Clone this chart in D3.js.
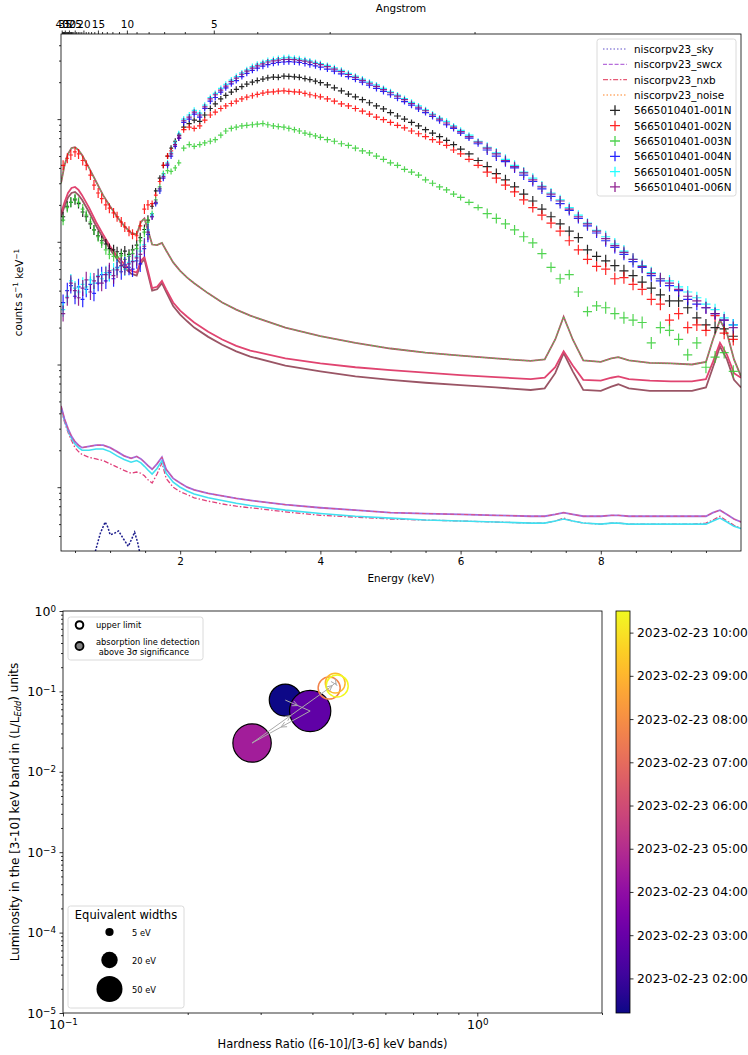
<!DOCTYPE html>
<html>
<head>
<meta charset="utf-8">
<script src="https://cdn.jsdelivr.net/npm/d3@7"></script>
<style>
  body { margin: 0; background: #fff; }
  svg { font-family: "DejaVu Sans", sans-serif; }
</style>
</head>
<body>
<svg id="chart" width="748" height="1055"></svg>
<script>
// ---------------- data: spectra (top panel) ----------------
const energyBins = [0.33,0.39,0.44,0.50,0.55,0.61,0.66,0.72,0.77,0.83,0.88,0.94,0.99,1.05,1.10,1.16,1.21,1.27,1.32,1.38,1.43,1.49,1.54,1.60,1.65,1.71,1.76,1.82,1.87,1.93,1.98,
  2.05,2.13,2.20,2.28,2.35,2.43,2.50,2.58,2.65,2.73,2.80,2.88,2.95,3.03,3.10,3.18,3.25,3.33,3.40,3.48,3.55,3.63,3.70,3.78,3.85,3.93,4.00,
  4.10,4.20,4.30,4.40,4.50,4.60,4.70,4.80,4.90,5.00,5.10,5.20,5.30,5.40,5.50,5.60,5.70,5.80,5.90,6.00,
  6.12,6.25,6.38,6.51,6.64,6.77,6.90,7.03,7.16,7.29,7.42,7.55,7.68,7.81,7.94,8.07,8.20,8.33,8.46,8.59,8.72,8.85,8.98,9.11,9.24,9.37,9.50,9.63,9.76,9.89]

const rate001 = [16,19.5,21,22,20.5,17.5,16,14,12.5,11.2,10.2,9.6,8.8,8.6,8.3,8.0,8.4,7.9,8.6,9.4,10.8,12.6,15,19.5,26,33,42,50,58,66,74,
  86,92,98,96,108,122,133,146,156,166,175,184,193,200,206,212,217,220,219,224,223,221,219,214,210,204,198,
  190,180,170,160,152,144,136,128,121,113,106,100,94,88,82,77,72,67,62,57,
  52,46,41,36,32,28,24.5,21.5,18.5,16,14,12.2,10.8,8.6,7.6,7.0,6.4,5.8,5.3,4.7,4.2,3.7,3.3,3.3,2.9,2.4,2.1,2.0,1.95,1.7]
const rate002 = [42,48,51,54,52,46,42,35,29,25,22.5,20,18.8,17.2,16,14.5,13.2,12.2,11.5,11.2,13.5,18.5,20,20.5,24,31,42,50,55,62,70,
  82,86,84,88,98,108,114,122,128,134,140,146,151,155,159,163,166,167,169,170,168,167,166,162,158,155,152,
  146,140,133,128,122,116,110,104,99,94,89,85,80,76,72,68,65,61,56,52,
  47,42,37,33,29,25.5,22,19,16.5,14.2,12.2,10.2,8.6,7.2,6.3,6.0,5.0,5.1,4.5,4.1,3.4,3.1,2.3,2.6,2.0,2.1,1.9,2.5,1.8,1.6]
const rate003 = [15,19,21,22.5,21,18.5,16.5,14.5,12.5,11,9.8,8.6,7.9,7.6,7.5,7.7,7.2,7.6,8.0,8.8,10.2,12,14.5,17,22,28,36,38,37.5,40,44,
  58,62,60,62,64,66,68,74,80,84,86,88,89,90,91,92,90,88,87,86,84,82,80,77,75,73,71,
  68,66,63,61,58,55,53,50,47,44,42,39,37,35,32,30,28,26.5,24.5,23,
  21,19,17,15.5,14,12.5,11,9.8,8.0,6.2,5.0,5.4,3.9,2.7,3.0,2.9,2.6,2.4,2.3,2.2,1.5,2.0,1.9,1.6,1.2,1.5,0.95,1.15,1.25,0.88]
const rate004 = [3.2,4.0,4.4,3.6,4.3,3.4,4.1,4.5,3.8,4.6,5.4,4.8,5.6,5.0,6.2,5.7,6.5,6.2,6.0,7.0,6.6,8.8,11.5,16,20.5,26,33,42,50,60,70,
  94,100,110,104,122,140,150,166,180,194,206,222,236,250,260,270,278,285,290,292,294,292,290,284,278,272,265,
  256,246,234,222,211,200,189,178,168,158,148,139,130,121,113,105,97,90,84,77,
  70,63,56,50,45,40,35,31,27,23.5,20.5,18,15.5,13.5,11.8,10.2,9.0,7.9,6.9,6.2,5.3,4.8,4.4,4.0,3.4,3.1,2.9,2.6,2.3,2.1]
const rate005 = [2.8,3.6,4.8,4.2,3.9,4.5,4.3,4.9,4.6,5.3,5.0,5.6,5.4,5.9,6.1,6.3,6.0,6.8,7.0,7.6,8.4,9.5,12.5,16.5,21,27,35,44,53,64,76,
  100,108,118,112,130,150,162,178,192,208,222,238,252,268,280,290,300,306,312,316,318,314,310,304,298,290,284,
  274,262,250,236,224,212,200,190,178,167,157,147,137,128,119,110,102,96,88,81,
  74,66,59,53,47,42,37,33,28.5,25,22,19,16.5,14.2,12.4,11.0,9.6,8.4,7.2,6.4,5.6,5.0,4.8,4.3,3.9,3.5,3.1,2.8,2.4,2.1]
const rate006 = [2.6,3.5,4.6,4.0,3.5,4.2,4.9,3.9,4.8,5.2,4.6,5.4,5.8,5.3,5.9,6.4,6.2,6.6,6.9,7.4,7.9,9.2,12,16,21,27,34,43,52,62,73,
  97,104,114,108,126,146,158,172,186,202,216,232,246,260,272,282,292,298,303,306,307,305,301,297,291,284,278,
  268,256,244,231,219,207,196,185,174,164,154,144,134,125,117,108,100,93,86,79,
  72,65,58,52,46,41,36.5,32,28,24.5,21.5,18.5,16,14,12.2,10.6,9.3,8.2,7.2,6.3,5.5,5.0,4.6,4.1,3.6,3.3,2.9,2.6,2.3,2.0]

const obsNames = ['5665010401-001N','5665010401-002N','5665010401-003N','5665010401-004N','5665010401-005N','5665010401-006N']
const modelNames = ['niscorpv23_sky','niscorpv23_swcx','niscorpv23_nxb','niscorpv23_noise']

// background model curves
const modelEnergy = [0.30,0.35,0.40,0.45,0.50,0.55,0.60,0.70,0.80,0.90,1.00,1.10,1.20,1.30,
  1.38,1.44,1.49,1.54,1.60,1.67,1.74,1.80,1.90,2.00,2.10,2.20,2.40,2.60,2.80,3.00,3.50,
  4.00,4.50,5.00,5.50,6.00,6.50,7.00,7.20,7.35,7.47,7.60,7.75,8.00,8.15,8.25,8.40,8.70,
  9.00,9.30,9.50,9.60,9.70,9.80,9.90,10.0]
const bkgHigh = [30,42,52,58,59,56,51,40,31,24,19.5,16,13.5,11.8,
  11.5,14.5,15.5,12.5,9.5,9.4,9.8,8.5,6.8,5.8,5.1,4.6,3.8,3.2,2.8,2.5,2.0,
  1.7,1.5,1.35,1.25,1.18,1.12,1.07,1.1,1.6,2.45,1.6,1.08,1.05,1.12,1.15,1.08,1.03,
  1.02,1.0,1.05,1.6,2.3,1.8,1.1,0.8]
const bkgMid = [17,21,25,27.5,28,26.5,24,19,14.5,11.5,9.2,7.6,6.6,5.8,
  5.6,7.0,7.5,5.8,4.2,4.3,4.8,4.1,3.2,2.75,2.45,2.2,1.85,1.6,1.42,1.3,1.12,
  1.02,0.95,0.9,0.86,0.82,0.79,0.76,0.78,0.95,1.28,0.98,0.75,0.74,0.78,0.8,0.76,0.74,
  0.73,0.73,0.76,1.05,1.5,1.2,0.85,0.78]
const bkgLow = [16,19.5,23,25,25.5,24,22,17.5,13.5,10.8,8.7,7.2,6.2,5.5,
  5.3,6.7,7.2,5.5,4.0,4.1,4.6,3.9,3.0,2.55,2.25,2.0,1.68,1.45,1.28,1.16,0.98,
  0.88,0.8,0.75,0.71,0.68,0.65,0.62,0.64,0.85,1.24,0.88,0.62,0.61,0.66,0.69,0.64,0.61,
  0.61,0.61,0.65,0.95,1.4,1.1,0.75,0.65]
const swcxCurve = [0.46,0.36,0.30,0.26,0.235,0.22,0.21,0.215,0.22,0.22,0.21,0.195,0.18,0.172,
  0.178,0.17,0.16,0.15,0.14,0.155,0.176,0.14,0.118,0.108,0.1,0.095,0.089,0.085,0.081,0.078,0.072,
  0.068,0.065,0.062,0.061,0.06,0.059,0.058,0.058,0.06,0.062,0.06,0.058,0.058,0.059,0.059,0.058,0.058,
  0.058,0.058,0.058,0.062,0.065,0.06,0.055,0.052]
const cyanCurve = [0.45,0.35,0.29,0.25,0.225,0.21,0.2,0.2,0.205,0.205,0.195,0.18,0.168,0.16,
  0.165,0.158,0.148,0.138,0.128,0.142,0.165,0.13,0.11,0.1,0.093,0.088,0.082,0.078,0.074,0.071,0.065,
  0.061,0.058,0.056,0.054,0.053,0.052,0.051,0.051,0.053,0.055,0.053,0.051,0.05,0.051,0.051,0.05,0.05,
  0.05,0.05,0.05,0.053,0.056,0.052,0.048,0.046]
const nxbCurve = [0.43,0.34,0.28,0.24,0.21,0.195,0.185,0.175,0.17,0.165,0.155,0.146,0.137,0.13,
  0.133,0.13,0.124,0.115,0.108,0.128,0.158,0.118,0.1,0.092,0.087,0.082,0.077,0.073,0.07,0.068,0.063,
  0.059,0.057,0.055,0.054,0.053,0.052,0.051,0.051,0.053,0.056,0.053,0.051,0.05,0.051,0.051,0.05,0.05,
  0.05,0.05,0.051,0.054,0.058,0.053,0.049,0.046]
const skyEnergy = [0.70,0.79,0.86,0.93,0.97,1.00,1.06,1.12,1.19,1.26,1.31,1.35,1.39,1.42,1.47]
const skyCurve = [0.018,0.03,0.042,0.052,0.047,0.041,0.042,0.044,0.038,0.033,0.038,0.043,0.036,0.03,0.02]

const energyTicks = [2, 4, 6, 8]
const angstromMajor = [40, 35, 30, 25, 20, 15, 10, 5]
const angstromMinor = [2,3,4,6,7,8,9,11,12,13,14,16,17,18,19,21,22,23,24,26,27,28,29,31,32,33,34,36,37,38,39]

// ---------------- data: hardness / luminosity (bottom panel) ----------------
const obsHardness = [0.344, 0.395, 0.286, 0.439, 0.454, 0.459]
const obsLuminosity = [0.078, 0.057, 0.0228, 0.110, 0.127, 0.117]
const obsWidth = [76, 126, 109, 36, 29, 36]
const obsDetected = [true, true, true, false, false, false]
const obsTime = ['2023-02-23 01:12','2023-02-23 02:50','2023-02-23 04:30','2023-02-23 07:43','2023-02-23 09:06','2023-02-23 10:30']
const widthLegend = [5, 20, 50]

// ---------------- setup ----------------
const svg = d3.select('#chart')
const hc = 12.398
const obsColors = ['#000000', '#ff0000', '#33cc33', '#0000ff', '#00ffff', '#800080']

function powLabels(g) {
  g.selectAll('.tick text').each(function (d) {
    const e = Math.round(Math.log10(d))
    const t = d3.select(this).text(null)
    t.append('tspan').text('10')
    t.append('tspan').attr('dy', '-0.45em').attr('font-size', '70%')
      .text(e < 0 ? '\u2212' + (-e) : String(e))
  })
}

function minorLog(lo, hi) {
  const out = []
  for (let p = -6; p <= 3; p++) {
    for (let k = 2; k <= 9; k++) {
      const v = k * Math.pow(10, p)
      if (v >= lo && v <= hi) out.push(v)
    }
  }
  return out
}

function styleAxis(g, size) {
  g.select('.domain').remove()
  g.selectAll('.tick line').attr('stroke', '#000').attr('stroke-width', 0.8)
  g.selectAll('.tick text').attr('fill', '#000').attr('font-size', size)
    .attr('font-family', '"DejaVu Sans", sans-serif')
}

// ================= top panel =================
const T = {l: 61, r: 741, t: 34, b: 551}
const x = d3.scaleLinear().domain([0.3, 10]).range([T.l, T.r])
const y = d3.scaleLog().domain([0.0302, 494]).range([T.b, T.t])

svg.append('clipPath').attr('id', 'clipTop').append('rect')
  .attr('x', T.l).attr('y', T.t).attr('width', T.r - T.l).attr('height', T.b - T.t)
const plotTop = svg.append('g').attr('clip-path', 'url(#clipTop)')

const line = d3.line().x(d => x(d[0])).y(d => y(d[1]))
const curve = vals => line(modelEnergy.map((e, i) => [e, vals[i]]))

// lower component curves
plotTop.append('path').attr('d', curve(nxbCurve)).attr('fill', 'none')
  .attr('stroke', '#e0407a').attr('stroke-width', 1.3).attr('stroke-dasharray', '5,2,1.5,2')
plotTop.append('path').attr('d', curve(cyanCurve)).attr('fill', 'none')
  .attr('stroke', '#40e0f0').attr('stroke-width', 1.6)
plotTop.append('path').attr('d', curve(swcxCurve)).attr('fill', 'none')
  .attr('stroke', '#9a5cd8').attr('stroke-width', 1.8).attr('opacity', 0.9)
plotTop.append('path').attr('d', curve(swcxCurve)).attr('fill', 'none')
  .attr('stroke', '#e05080').attr('stroke-width', 1).attr('stroke-dasharray', '4,3')
plotTop.append('path').attr('d', line(skyEnergy.map((e, i) => [e, skyCurve[i]])))
  .attr('fill', 'none').attr('stroke', '#1c1c8c').attr('stroke-width', 1.5).attr('stroke-dasharray', '2,1.5')

// upper background curves
plotTop.append('path').attr('d', curve(bkgLow)).attr('fill', 'none')
  .attr('stroke', '#9a5565').attr('stroke-width', 1.8)
plotTop.append('path').attr('d', curve(bkgMid)).attr('fill', 'none')
  .attr('stroke', '#e04470').attr('stroke-width', 1.8)
plotTop.append('path').attr('d', curve(bkgHigh)).attr('fill', 'none')
  .attr('stroke', '#b8506a').attr('stroke-width', 1.8)
plotTop.append('path').attr('d', curve(bkgHigh)).attr('fill', 'none')
  .attr('stroke', '#55cc55').attr('stroke-width', 1.1).attr('stroke-dasharray', '1.5,1.5')

// data crosses (bin width horizontally, fixed-size vertical bars)
function crossPath(vals, lowBar) {
  let p = ''
  const n = energyBins.length
  vals.forEach((v, i) => {
    const e = energyBins[i]
    const lo = i > 0 ? (energyBins[i - 1] + e) / 2 : e - (energyBins[1] - energyBins[0]) / 2
    const hi = i < n - 1 ? (energyBins[i + 1] + e) / 2 : e + (e - energyBins[i - 1]) / 2
    const cy = y(v)
    const h = e < 1.6 ? lowBar : (e < 6.3 ? 3 : (e < 8 ? 5 : 6))
    p += `M${x(lo)},${cy}H${x(hi)}M${x(e)},${cy - h}V${cy + h}`
  })
  return p
}
const rates = [rate001, rate002, rate003, rate004, rate005, rate006]
const lowBars = [5, 5, 5, 8, 7, 8]
rates.forEach((vals, k) => {
  plotTop.append('path').attr('d', crossPath(vals, lowBars[k])).attr('fill', 'none')
    .attr('stroke', obsColors[k]).attr('stroke-width', 1.2).attr('opacity', 0.85)
})

// axes
const gxTop = svg.append('g').attr('transform', `translate(0,${T.b})`)
  .call(d3.axisBottom(x).tickValues(energyTicks).tickFormat(d3.format('d')).tickSize(3.5).tickPadding(3.5))
styleAxis(gxTop, 10.4)
const gxTopMinor = svg.append('g').attr('transform', `translate(0,${T.b})`)
  .call(d3.axisBottom(x).tickValues(d3.range(0.5, 10, 0.5).filter(v => v % 2 !== 0)).tickFormat('').tickSize(2))
styleAxis(gxTopMinor, 10)

const gAng = svg.append('g').attr('transform', `translate(0,${T.t})`)
  .call(d3.axisTop(x).tickValues(angstromMajor.map(l => hc / l))
    .tickFormat(e => String(Math.round(hc / e))).tickSize(3.5).tickPadding(3))
styleAxis(gAng, 10.4)
const gAngMinor = svg.append('g').attr('transform', `translate(0,${T.t})`)
  .call(d3.axisTop(x).tickValues(angstromMinor.map(l => hc / l)).tickFormat('').tickSize(2))
styleAxis(gAngMinor, 10)

const gyTop = svg.append('g').attr('transform', `translate(${T.l},0)`)
  .call(d3.axisLeft(y).tickValues([0.1, 1, 10, 100]).tickFormat('').tickSize(3.5))
styleAxis(gyTop, 10.4)
const gyTopMinor = svg.append('g').attr('transform', `translate(${T.l},0)`)
  .call(d3.axisLeft(y).tickValues(minorLog(0.0302, 494)).tickFormat('').tickSize(2))
styleAxis(gyTopMinor, 10)

svg.append('rect').attr('x', T.l).attr('y', T.t).attr('width', T.r - T.l).attr('height', T.b - T.t)
  .attr('fill', 'none').attr('stroke', '#000').attr('stroke-width', 0.8)

svg.append('text').attr('x', (T.l + T.r) / 2).attr('y', 578).attr('text-anchor', 'middle')
  .attr('dominant-baseline', 'central').attr('font-size', 10.4).text('Energy (keV)')
svg.append('text').attr('x', (T.l + T.r) / 2).attr('y', 8).attr('text-anchor', 'middle')
  .attr('dominant-baseline', 'central').attr('font-size', 10.4).text('Angstrom')
const yl = svg.append('text').attr('transform', `translate(18,${(T.t + T.b) / 2}) rotate(-90)`)
  .attr('text-anchor', 'middle').attr('dominant-baseline', 'central').attr('font-size', 10.4)
yl.append('tspan').text('counts s')
yl.append('tspan').attr('dy', '-0.4em').attr('font-size', '70%').text('\u22121')
yl.append('tspan').attr('dy', '0.4em').text(' keV')
yl.append('tspan').attr('dy', '-0.4em').attr('font-size', '70%').text('\u22121')

// legend
const lg = svg.append('g')
lg.append('rect').attr('x', 597).attr('y', 39).attr('width', 139).attr('height', 157).attr('rx', 2.5)
  .attr('fill', '#fff').attr('fill-opacity', 0.85).attr('stroke', '#d0d0d0').attr('stroke-width', 0.8)
const modelStyles = [
  {color: '#6a5acd', dash: '1.5,2'},
  {color: '#9932cc', dash: '4,1.8'},
  {color: '#dc143c', dash: '5,1.8,1.5,1.8'},
  {color: '#ff8c30', dash: '1.5,2'}
]
modelNames.forEach((name, i) => {
  const yy = 49 + i * 15.33
  lg.append('line').attr('x1', 603).attr('x2', 627).attr('y1', yy).attr('y2', yy)
    .attr('stroke', modelStyles[i].color).attr('stroke-width', 1.4).attr('opacity', 0.7)
    .attr('stroke-dasharray', modelStyles[i].dash)
  lg.append('text').attr('x', 634).attr('y', yy).attr('dominant-baseline', 'central')
    .attr('font-size', 10.4).text(name)
})
obsNames.forEach((name, i) => {
  const yy = 49 + (i + 4) * 15.33
  lg.append('path').attr('d', `M610,${yy}H620M615,${yy - 5}V${yy + 5}`)
    .attr('stroke', obsColors[i]).attr('stroke-width', 1.3).attr('opacity', 0.85)
  lg.append('text').attr('x', 634).attr('y', yy).attr('dominant-baseline', 'central')
    .attr('font-size', 10.4).text(name)
})

// ================= bottom panel =================
const B = {l: 63, r: 602, t: 611, b: 1013}
const xb = d3.scaleLog().domain([0.1, 2]).range([B.l, B.r])
const yb = d3.scaleLog().domain([1e-5, 1]).range([B.b, B.t])
const parseTime = d3.timeParse('%Y-%m-%d %H:%M')
const times = obsTime.map(parseTime)
const tScale = d3.scaleTime().domain(d3.extent(times)).range([B.b, B.t])
const colorOf = t => d3.interpolatePlasma((t - times[0]) / (d3.max(times) - times[0]))
const rScale = d3.scaleSqrt().domain([0, 50]).range([0, 13])

svg.append('clipPath').attr('id', 'clipBot').append('rect')
  .attr('x', B.l).attr('y', B.t).attr('width', B.r - B.l).attr('height', B.b - B.t)
const plotBot = svg.append('g').attr('clip-path', 'url(#clipBot)')

const pts = obsHardness.map((h, i) => ({
  x: xb(h), y: yb(obsLuminosity[i]), r: rScale(obsWidth[i]), det: obsDetected[i], c: colorOf(times[i])
}))
pts.forEach(p => {
  if (p.det) {
    plotBot.append('circle').attr('cx', p.x).attr('cy', p.y).attr('r', p.r)
      .attr('fill', p.c).attr('stroke', '#000').attr('stroke-width', 1.2)
  } else {
    plotBot.append('circle').attr('cx', p.x).attr('cy', p.y).attr('r', p.r)
      .attr('fill', 'none').attr('stroke', p.c).attr('stroke-width', 1.5)
  }
})
// time-ordered arrows
for (let i = 0; i < pts.length - 1; i++) {
  const a = pts[i], b = pts[i + 1]
  plotBot.append('line').attr('x1', a.x).attr('y1', a.y).attr('x2', b.x).attr('y2', b.y)
    .attr('stroke', '#aaaaaa').attr('stroke-width', 1)
  const mx = (a.x + b.x) / 2, my = (a.y + b.y) / 2
  const ang = Math.atan2(b.y - a.y, b.x - a.x)
  const L = 6, s = 0.45
  plotBot.append('path')
    .attr('d', `M${mx - L * Math.cos(ang - s)},${my - L * Math.sin(ang - s)}L${mx},${my}L${mx - L * Math.cos(ang + s)},${my - L * Math.sin(ang + s)}`)
    .attr('fill', 'none').attr('stroke', '#aaaaaa').attr('stroke-width', 1)
}

const gxb = svg.append('g').attr('transform', `translate(0,${B.b})`)
  .call(d3.axisBottom(xb).tickValues([0.1, 1]).tickSize(3.5).tickPadding(3.5))
styleAxis(gxb, 12.5)
powLabels(gxb)
const gxbMinor = svg.append('g').attr('transform', `translate(0,${B.b})`)
  .call(d3.axisBottom(xb).tickValues(minorLog(0.1, 2)).tickFormat('').tickSize(2))
styleAxis(gxbMinor, 10)
const gyb = svg.append('g').attr('transform', `translate(${B.l},0)`)
  .call(d3.axisLeft(yb).tickValues([1e-5, 1e-4, 1e-3, 1e-2, 1e-1, 1]).tickSize(3.5).tickPadding(3.5))
styleAxis(gyb, 12.5)
powLabels(gyb)
const gybMinor = svg.append('g').attr('transform', `translate(${B.l},0)`)
  .call(d3.axisLeft(yb).tickValues(minorLog(1e-5, 1)).tickFormat('').tickSize(2))
styleAxis(gybMinor, 10)

svg.append('rect').attr('x', B.l).attr('y', B.t).attr('width', B.r - B.l).attr('height', B.b - B.t)
  .attr('fill', 'none').attr('stroke', '#000').attr('stroke-width', 0.8)

svg.append('text').attr('x', (B.l + B.r) / 2).attr('y', 1044).attr('text-anchor', 'middle')
  .attr('dominant-baseline', 'central').attr('font-size', 11.5).text('Hardness Ratio ([6-10]/[3-6] keV bands)')
const ylb = svg.append('text').attr('transform', `translate(15,${(B.t + B.b) / 2}) rotate(-90)`)
  .attr('text-anchor', 'middle').attr('dominant-baseline', 'central').attr('font-size', 12)
ylb.append('tspan').text('Luminosity in the [3-10] keV band in (L/L')
ylb.append('tspan').attr('dy', '0.3em').attr('font-size', '70%').attr('font-style', 'italic').text('Edd')
ylb.append('tspan').attr('dy', '-0.3em').text(') units')

// legend: markers
const lb = svg.append('g')
lb.append('rect').attr('x', 68).attr('y', 617).attr('width', 135).attr('height', 43).attr('rx', 2.5)
  .attr('fill', '#fff').attr('fill-opacity', 0.85).attr('stroke', '#d0d0d0').attr('stroke-width', 0.8)
lb.append('circle').attr('cx', 79.5).attr('cy', 625).attr('r', 3.8).attr('fill', '#fff')
  .attr('stroke', '#000').attr('stroke-width', 2)
lb.append('text').attr('x', 96).attr('y', 625).attr('dominant-baseline', 'central').attr('font-size', 8.3).text('upper limit')
lb.append('circle').attr('cx', 79.5).attr('cy', 646).attr('r', 4).attr('fill', '#808080')
  .attr('stroke', '#000').attr('stroke-width', 1.8)
lb.append('text').attr('x', 96).attr('y', 641.5).attr('dominant-baseline', 'central').attr('font-size', 8.3).text('absorption line detection')
lb.append('text').attr('x', 96).attr('y', 651.5).attr('dominant-baseline', 'central').attr('font-size', 8.3)
  .attr('xml:space', 'preserve').text(' above 3\u03c3 significance')

// legend: equivalent widths
const lw = svg.append('g')
lw.append('rect').attr('x', 68).attr('y', 906).attr('width', 116).attr('height', 102).attr('rx', 2.5)
  .attr('fill', '#fff').attr('fill-opacity', 0.85).attr('stroke', '#d0d0d0').attr('stroke-width', 0.8)
lw.append('text').attr('x', 126).attr('y', 915).attr('text-anchor', 'middle').attr('dominant-baseline', 'central')
  .attr('font-size', 11.5).text('Equivalent widths')
const ewY = [932, 960, 989]
widthLegend.forEach((w, i) => {
  lw.append('circle').attr('cx', 109.5).attr('cy', ewY[i]).attr('r', rScale(w)).attr('fill', '#000')
  lw.append('text').attr('x', 132).attr('y', ewY[i] + 1).attr('dominant-baseline', 'central')
    .attr('font-size', 8.3).text(`${w} eV`)
})

// colorbar
const CB = {l: 616, r: 630}
const grad = svg.append('defs').append('linearGradient').attr('id', 'plasma')
  .attr('x1', 0).attr('y1', 1).attr('x2', 0).attr('y2', 0)
d3.range(0, 1.0001, 0.05).forEach(s => {
  grad.append('stop').attr('offset', s).attr('stop-color', d3.interpolatePlasma(s))
})
svg.append('rect').attr('x', CB.l).attr('y', B.t).attr('width', CB.r - CB.l).attr('height', B.b - B.t)
  .attr('fill', 'url(#plasma)').attr('stroke', '#000').attr('stroke-width', 0.8)
const gcb = svg.append('g').attr('transform', `translate(${CB.r},0)`)
  .call(d3.axisRight(tScale).ticks(d3.timeHour.every(1)).tickFormat(d3.timeFormat('%Y-%m-%d %H:%M'))
    .tickSize(3.5).tickPadding(3.5))
styleAxis(gcb, 12.3)
</script>
</body>
</html>
